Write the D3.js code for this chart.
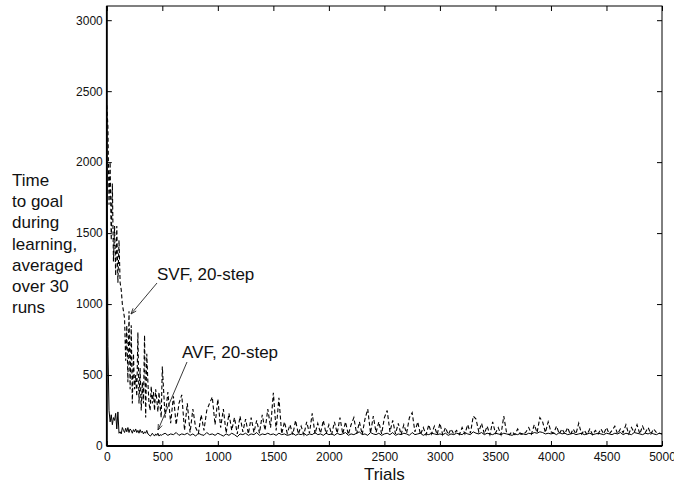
<!DOCTYPE html>
<html><head><meta charset="utf-8">
<script src="https://cdn.jsdelivr.net/npm/d3@7"></script>
<style>
body{margin:0;background:#fff;}
text{font-family:"Liberation Sans",Arial,Helvetica,sans-serif;fill:#111;}
</style></head>
<body>
<svg id="chart" width="674" height="485"></svg>
<script>
// ---- data ----
const earlyTrials = d3.range(0, 500, 10);
const lateTrials = d3.range(500, 5001, 25);
const trials = earlyTrials.concat(lateTrials);

const svfEarly = [2400,2250,1700,2000,1450,1850,1300,1550,1200,1550,1150,1450,1150,1100,1000,950,900,600,850,450,
  950,400,850,300,650,400,500,350,800,300,550,250,450,300,780,200,650,450,300,250,
  420,300,380,250,400,330,240,380,280,200];
const svfLate = [
  560,200,380,160,350,150,300,360,110,300,95,260,130,90,220,110,250,300,345,150,
  330,130,260,90,230,110,200,85,210,100,190,85,200,95,180,90,220,110,260,130,
  375,110,340,85,170,90,150,80,180,85,140,80,170,90,230,85,160,90,180,85,
  150,80,170,90,200,85,170,80,150,200,85,170,80,190,260,90,210,95,170,85,
  200,250,100,180,85,160,80,150,90,200,235,100,170,80,130,80,150,85,140,80,
  160,80,130,80,120,85,110,80,130,85,150,90,210,190,100,160,85,140,80,170,
  90,130,80,210,95,80,100,80,120,85,80,100,130,85,150,95,200,170,95,170,
  100,90,140,85,120,85,130,80,120,85,160,85,110,80,120,80,110,85,120,85,
  130,85,110,140,85,120,95,150,85,130,95,150,85,140,95,130,85,120,95,90,85];

const avfEarly = [2300,700,250,170,220,150,200,180,230,120,240,90,100,85,130,110,95,125,100,130,
  95,120,110,90,115,100,120,95,110,90,115,95,105,85,100,90,110,85,80,70,
  75,90,80,70,85,75,90,70,80,75];
const avfLate = [
  80,90,75,85,80,95,75,85,80,90,75,85,70,90,80,75,95,80,85,75,
  90,80,70,85,75,90,80,65,85,80,90,75,85,80,95,75,85,80,90,80,
  85,75,90,80,85,75,80,90,75,85,80,90,75,85,80,95,80,85,75,90,
  80,85,75,90,80,85,95,75,85,80,90,100,80,85,75,95,85,80,90,75,
  85,90,80,95,75,85,80,90,85,75,95,80,85,90,75,85,80,90,85,80,
  85,80,90,75,85,80,90,85,80,95,85,80,100,90,85,95,80,90,85,80,
  90,85,80,90,85,80,75,85,80,90,85,80,90,85,95,90,100,95,85,90,
  85,90,80,95,85,90,80,85,90,80,85,90,80,85,90,80,85,90,85,80,
  90,85,80,90,85,95,80,90,85,80,95,90,85,80,90,85,95,85,80,90,85];

const svfValues = svfEarly.concat(svfLate);
const avfValues = avfEarly.concat(avfLate);

const xTicks = [0,500,1000,1500,2000,2500,3000,3500,4000,4500,5000];
const yTicks = [0,500,1000,1500,2000,2500,3000];
const yLabelLines = ["Time","to goal","during","learning,","averaged","over 30","runs"];
const annotations = [
  {text:"SVF, 20-step", series:"svf", trial:220},
  {text:"AVF, 20-step", series:"avf", trial:460}
];

// ---- layout ----
const svg = d3.select("#chart");
const L = 106.8, R = 662, T = 6, B = 446;
const x = d3.scaleLinear().domain([0,5000]).range([L,R]);
const y = d3.scaleLinear().domain([0,3100]).range([B,T]);

svg.append("defs").append("clipPath").attr("id","clip")
  .append("rect").attr("x",L).attr("y",T).attr("width",R-L).attr("height",B-T);

const line = d3.line().x(d=>x(d[0])).y(d=>y(d[1]));
const g = svg.append("g").attr("clip-path","url(#clip)");
g.append("path").datum(trials.map((t,i)=>[t,avfValues[i]]))
  .attr("d",line).attr("fill","none").attr("stroke","#000").attr("stroke-width",1);
g.append("path").datum(trials.map((t,i)=>[t,svfValues[i]]))
  .attr("d",line).attr("fill","none").attr("stroke","#000").attr("stroke-width",1.1)
  .attr("stroke-dasharray","4,2.5");

// axes
const fmt = d3.format("d");
const ax = svg.append("g").attr("transform",`translate(0,${B})`)
  .call(d3.axisBottom(x).tickValues(xTicks).tickFormat(fmt).tickSizeInner(-5).tickSizeOuter(0).tickPadding(6.5));
const axT = svg.append("g").attr("transform",`translate(0,${T})`)
  .call(d3.axisTop(x).tickValues(xTicks).tickFormat("").tickSizeInner(-5).tickSizeOuter(0));
const ay = svg.append("g").attr("transform",`translate(${L},0)`)
  .call(d3.axisLeft(y).tickValues(yTicks).tickFormat(fmt).tickSizeInner(-5).tickSizeOuter(0).tickPadding(4));
const ayR = svg.append("g").attr("transform",`translate(${R},0)`)
  .call(d3.axisRight(y).tickValues(yTicks).tickFormat("").tickSizeInner(-5).tickSizeOuter(0));
[ax,axT,ay,ayR].forEach(a=>{
  a.select(".domain").remove();
  a.selectAll("line").attr("stroke","#000");
  a.selectAll("text").style("font-size","12px").attr("fill","#111")
   .style("font-family","'Liberation Sans',Arial,sans-serif");
});
svg.append("rect").attr("x",L).attr("y",T).attr("width",R-L).attr("height",B-T)
  .attr("fill","none").attr("stroke","#000").attr("stroke-width",1);
svg.append("line").attr("x1",L).attr("x2",L).attr("y1",T).attr("y2",B).attr("stroke","#000").attr("stroke-width",1.8);
svg.append("line").attr("x1",L).attr("x2",R).attr("y1",B).attr("y2",B).attr("stroke","#000").attr("stroke-width",1.8);

// axis titles
svg.append("text").attr("x",(L+R)/2).attr("y",480).attr("text-anchor","middle")
  .style("font-size","17px").text("Trials");
const yl = svg.append("text").attr("x",12).attr("y",186).style("font-size","17px");
yLabelLines.forEach((s,i)=>yl.append("tspan").attr("x",12).attr("y",186+i*21.2).text(s));

// annotations
const annPos = [{tx:157,ty:280,lx1:157,ly1:283,lx2:131,ly2:314},
                {tx:182,ty:358,lx1:187,ly1:362,lx2:158,ly2:430}];
annotations.forEach((a,i)=>{
  const p = annPos[i];
  svg.append("text").attr("x",p.tx).attr("y",p.ty).style("font-size","17px").text(a.text);
  svg.append("line").attr("x1",p.lx1).attr("y1",p.ly1).attr("x2",p.lx2).attr("y2",p.ly2)
    .attr("stroke","#222").attr("stroke-width",0.9);
  const ang = Math.atan2(p.ly1-p.ly2,p.lx1-p.lx2), h=6, w=0.35;
  const pts = [[p.lx2+h*Math.cos(ang+w),p.ly2+h*Math.sin(ang+w)],[p.lx2,p.ly2],[p.lx2+h*Math.cos(ang-w),p.ly2+h*Math.sin(ang-w)]];
  svg.append("path").attr("d",d3.line()(pts)).attr("fill","none").attr("stroke","#222").attr("stroke-width",0.9);
});
</script>
</body></html>
